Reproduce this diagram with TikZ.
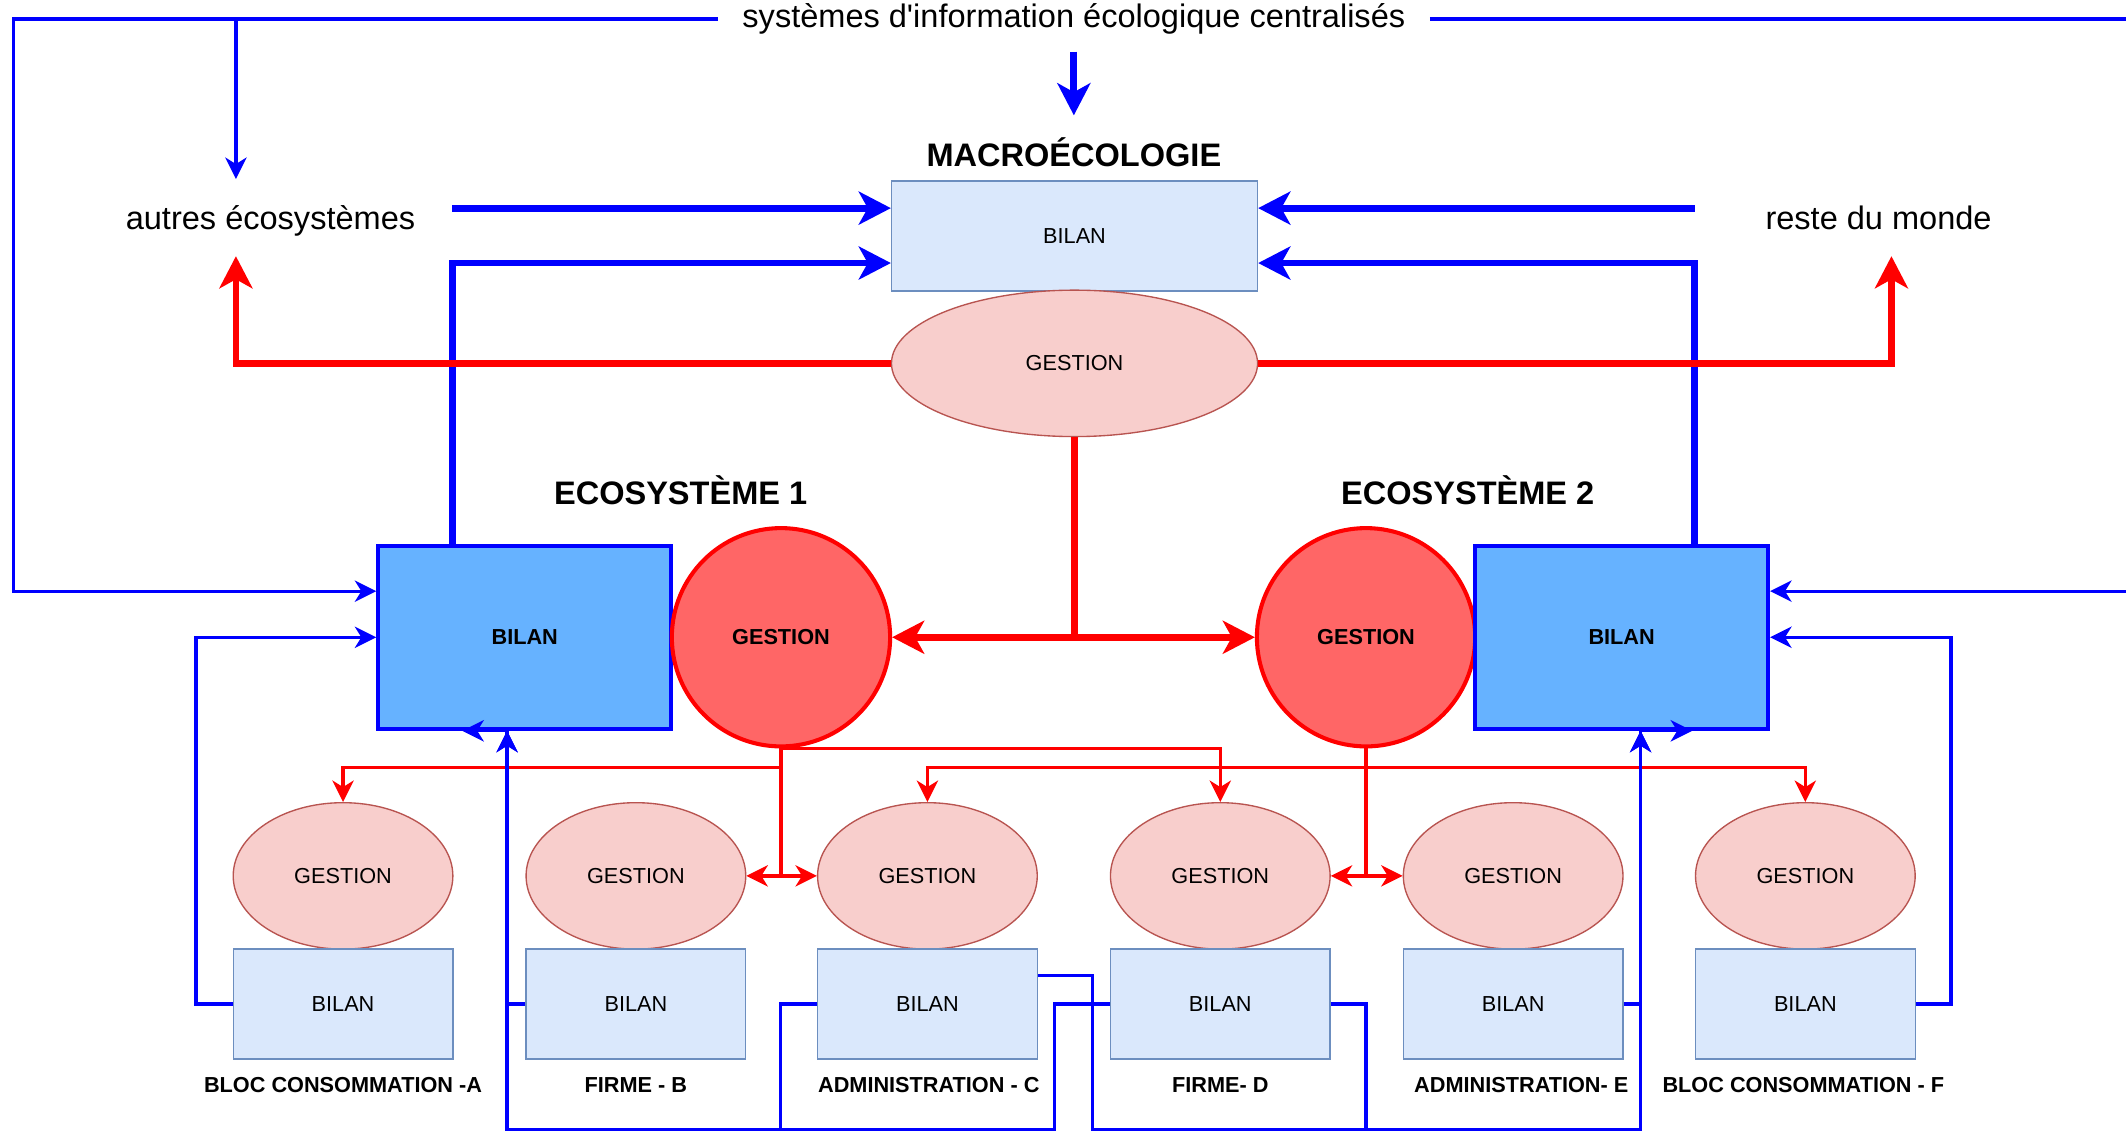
\documentclass[tikz,border=0pt]{standalone}
\usepackage{fontspec}
\setmainfont{Liberation Sans}
\usetikzlibrary{arrows.meta, shapes.geometric}

\definecolor{fondbleu}{HTML}{DAE8FC}
\definecolor{bordbleu}{HTML}{6C8EBF}
\definecolor{fondrouge}{HTML}{F8CECC}
\definecolor{bordrouge}{HTML}{B85450}
\definecolor{ecobleu}{HTML}{66B2FF}
\definecolor{ecorouge}{HTML}{FF6666}

\begin{document}
\begin{tikzpicture}[x=1pt, y=-1pt]

\tikzset{grand/.style = {font=\fontsize{24}{29}\selectfont}}
\tikzset{titre/.style = {font=\fontsize{24}{29}\selectfont\bfseries}}
\tikzset{etiq/.style = {font=\fontsize{16}{19}\selectfont\bfseries}}
\tikzset{bilan/.style = {rectangle, draw=bordbleu, fill=fondbleu, line width=1pt, minimum width=162pt, minimum height=81pt, font=\fontsize{16}{19}\selectfont}}
\tikzset{gestion/.style = {ellipse, draw=bordrouge, fill=fondrouge, line width=1pt, inner sep=0pt, minimum width=162pt, minimum height=108pt, font=\fontsize{16}{19}\selectfont}}
\tikzset{ecobilan/.style = {rectangle, draw=blue, fill=ecobleu, line width=3pt, minimum width=216pt, minimum height=135pt, etiq}}
\tikzset{ecogestion/.style = {circle, draw=red, fill=ecorouge, line width=3pt, inner sep=0pt, minimum size=161pt, etiq}}
\tikzset{blfin/.style = {draw=blue, line width=2.4pt, > = {Stealth[length=16pt, width=16pt, inset=5pt, line width=0pt]}}}
\tikzset{blepais/.style = {draw=blue, line width=5pt, > = {Stealth[length=24pt, width=25pt, inset=7pt, line width=0pt]}}}
\tikzset{rgfin/.style = {draw=red, line width=2.4pt, > = {Stealth[length=16pt, width=16pt, inset=5pt, line width=0pt]}}}
\tikzset{rgepais/.style = {draw=red, line width=5pt, > = {Stealth[length=24pt, width=25pt, inset=7pt, line width=0pt]}}}

\path[use as bounding box, fill=white] (0,0) rectangle (1568,834);

%nodes
\node[grand, inner xsep=18pt] (info) at (792,14) {systèmes d\textquotesingle information écologique centralisés};
\node[titre] (macro) at (792,112) {MACROÉCOLOGIE};
\node[bilan, minimum width=270pt] (mbil) at (792.5,174) {BILAN};
\node[gestion, minimum width=270pt] (mges) at (792.5,268) {GESTION};
\node[grand] (autres) at (199.5,163) {autres écosystèmes};
\node[grand] (reste) at (1385.5,161) {reste du monde};
\node[titre] (t1) at (502,361.5) {ECOSYSTÈME 1};
\node[titre] (t2) at (1082.5,361.5) {ECOSYSTÈME 2};
\node[ecobilan] (b1) at (387,470) {BILAN};
\node[ecogestion] (g1) at (576,470) {GESTION};
\node[ecogestion] (g2) at (1007.5,470) {GESTION};
\node[ecobilan] (b2) at (1196,470) {BILAN};

\foreach \n/\x/\lx/\lab in {A/253/253/BLOC CONSOMMATION -A, B/469/469/FIRME - B, C/684/685/ADMINISTRATION - C, D/900/900/FIRME- D, E/1116/1122/ADMINISTRATION- E, F/1331.5/1330/BLOC CONSOMMATION - F}{
  \node[gestion] (g\n) at (\x,646) {GESTION};
  \node[bilan] (b\n) at (\x,740.5) {BILAN};
  \node[etiq] (l\n) at (\lx,800) {\lab};
}

\coordinate (kl) at (10,436);
\coordinate (kr) at (1580,436);
\coordinate (ka) at (174,132);
\coordinate (kb) at (174,189);
\coordinate (kc) at (1395,189);
\coordinate (ae) at (333.5,153.5);
\coordinate (re) at (1250,153.5);

%edges
\draw[blfin,->] (info.west) -| (kl) -- (kl -| b1.west);
\draw[blfin,->] (info.west -| ka) -- (ka);
\draw[blfin,->] (info.east) -| (kr) -- (kr -| b2.east);
\draw[blepais,->] ([yshift=-24pt]info.center) -- ([yshift=27pt]macro.center);
\draw[blepais,->] (ae) -- (ae -| mbil.west);
\draw[blepais,->] (re) -- (re -| mbil.east);
\draw[blepais,->] ([xshift=-53.5pt]b1.north) |- ([yshift=-20pt]mbil.west);
\draw[blepais,->] ([xshift=54pt]b2.north) |- ([yshift=-20pt]mbil.east);

\draw[rgepais,->] (mges.west) -| (kb);
\draw[rgepais,->] (mges.east) -| (kc);
\draw[rgepais] (mges.south) -- (mges.south |- g1.east);
\draw[rgepais,<->] (g1.east) -- (g2.west);

\draw[rgfin,->] (g1.south) -| (gD.north);
\draw[rgfin,->] (g1.south) -- ++(0,14) -| (gA.north);
\draw[rgfin] (g1.south) -- (g1.south |- gB.east);
\draw[rgfin,<->] (gB.east) -- (gC.west);
\draw[rgfin,->] (g2.south) -- ++(0,14) -| (gC.north);
\draw[rgfin,->] (g2.south) -- ++(0,14) -| (gF.north);
\draw[rgfin] (g2.south) -- (g2.south |- gD.east);
\draw[rgfin,<->] (gD.east) -- (gE.west);

\draw[blfin,->] (bA.west) -- ++(-27,0) |- (b1.west);
\draw[blfin,->] (bB.west) -| ([xshift=-13pt]b1.south);
\draw[blfin,->] (bC.west) -- ++(-27,0) -- ++(0,93) -| ([xshift=-13pt]b1.south);
\draw[blfin,->] (bD.west) -- ++(-41,0) -- ++(0,93) -| ([xshift=-13pt]b1.south) -- ([xshift=-46pt]b1.south);
\draw[blfin,->] ([yshift=21pt]bC.east) -- ++(40,0) -- ++(0,114) -| ([xshift=14pt]b2.south) -- ([xshift=52pt]b2.south);
\draw[blfin,->] (bD.east) -- ++(26,0) -- ++(0,93) -| ([xshift=14pt]b2.south);
\draw[blfin,->] (bE.east) -| ([xshift=14pt]b2.south);
\draw[blfin,->] (bF.east) -- ++(26,0) |- (b2.east);

\end{tikzpicture}
\end{document}
